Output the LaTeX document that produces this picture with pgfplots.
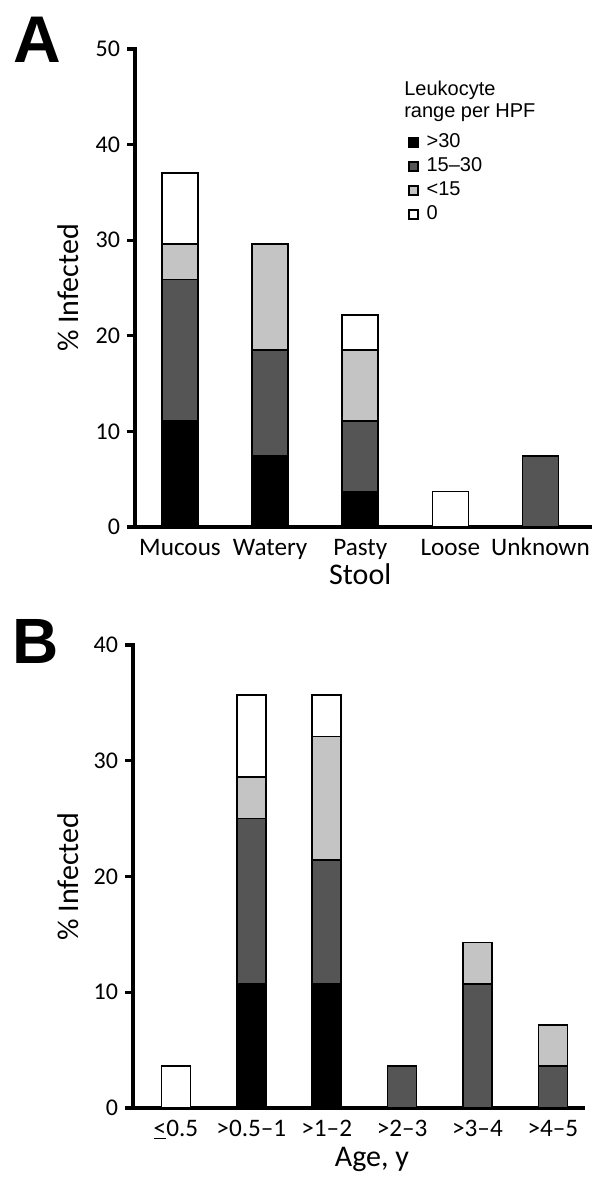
\documentclass[border=0pt]{standalone}
\usepackage{fontspec}
\setmainfont{Carlito}
\newfontfamily\arial[Ligatures=TeX]{Liberation Sans}
\usepackage{pgfplots}
\pgfplotsset{compat=1.18}
\definecolor{dgray}{HTML}{555555}
\definecolor{lgray}{HTML}{C4C4C4}

\pgfplotsset{
  panel/.style={
    scale only axis,
    axis x line=bottom, axis y line=left,
    axis line style={-, line width=1.6pt, line cap=rect},
    ybar stacked, ymin=0, enlargelimits=false,
    tick align=outside, major tick length=4pt,
    ytick style={line width=1.6pt, black},
    xtick style={draw=none},
    yticklabel style={font=\fontsize{12}{14}\selectfont},
    xticklabel style={font=\fontsize{12.6}{15}\selectfont, anchor=base, yshift=-10.3pt},
    /pgf/number format/assume math mode=true,
    label style={font=\fontsize{15}{18}\selectfont},
    every axis plot/.append style={draw=black, line width=0.85pt},
    legend image code/.code={\draw[#1, line width=0.6pt] (0pt,-2.25pt) rectangle (4.5pt,2.25pt);},
  }
}

\begin{document}
\begin{tikzpicture}
\useasboundingbox (0,0) rectangle (300pt,-600pt);

\node[anchor=base west, inner sep=0pt, font=\arial\bfseries\fontsize{33}{36}\selectfont] at (6.5pt,-31pt) {A};
\node[anchor=base west, inner sep=0pt, font=\arial\bfseries\fontsize{32}{36}\selectfont] at (6pt,-331.5pt) {B};

% Panel A
\begin{axis}[panel,
  at={(67.5pt,-263.5pt)}, anchor=south west,
  width=227.5pt, height=239pt,
  xmin=-0.5, xmax=4.55, ymax=50,
  ytick={0,10,20,30,40,50},
  xtick={0,1,2,3,4},
  xticklabels={Mucous,Watery,Pasty,Loose,Unknown},
  bar width=18pt,
  xlabel={Stool}, ylabel={\% Infected},
  xlabel style={at={(axis description cs:0.495,0)}, anchor=base, yshift=-28.8pt},
  ylabel style={at={(axis description cs:-0.147,0.5)}, anchor=center},
  legend style={draw=none, fill=none, at={(rel axis cs:0.600,0.825)}, anchor=north west,
    font=\arial\fontsize{10}{12}\selectfont, inner sep=0pt, row sep=2.6pt,
    nodes={inner sep=0pt, text height=7.4pt, text depth=2pt},
    /tikz/every odd column/.append style={column sep=4pt}},
  legend cell align=left,
]
\addplot[fill=black] coordinates {(0,11.1) (1,7.4) (2,3.7) (3,0) (4,0)};
\addplot[fill=dgray] coordinates {(0,14.8) (1,11.1) (2,7.4) (3,0) (4,7.4)};
\addplot[fill=lgray] coordinates {(0,3.7) (1,11.1) (2,7.4) (3,0) (4,0)};
\addplot[fill=white] coordinates {(0,7.4) (1,0) (2,3.7) (3,3.7) (4,0)};
\legend{>30,15\textendash30,<15,0}
\node[anchor=north west, inner sep=0pt, align=left, font=\arial\fontsize{10}{10.8}\selectfont] at (rel axis cs:0.591,0.933) {Leukocyte\\range per HPF};
\end{axis}

% Panel B
\begin{axis}[panel,
  at={(66.5pt,-554pt)}, anchor=south west,
  width=225pt, height=231.5pt,
  xmin=-0.57, xmax=5.4, ymax=40,
  ytick={0,10,20,30,40},
  xtick={0,1,2,3,4,5},
  xticklabels={\underline{<}0.5,>0.5\textendash1,>1\textendash2,>2\textendash3,>3\textendash4,>4\textendash5},
  xticklabel style={yshift=0.3pt},
  bar width=14.5pt,
  xlabel={Age, y}, ylabel={\% Infected},
  xlabel style={at={(axis description cs:0.531,0)}, anchor=base, yshift=-29pt},
  ylabel style={at={(axis description cs:-0.144,0.5)}, anchor=center},
]
\addplot[fill=black] coordinates {(0,0) (1,10.7) (2,10.7) (3,0) (4,0) (5,0)};
\addplot[fill=dgray] coordinates {(0,0) (1,14.3) (2,10.7) (3,3.6) (4,10.7) (5,3.6)};
\addplot[fill=lgray] coordinates {(0,0) (1,3.6) (2,10.7) (3,0) (4,3.6) (5,3.6)};
\addplot[fill=white] coordinates {(0,3.6) (1,7.1) (2,3.6) (3,0) (4,0) (5,0)};
\end{axis}
\end{tikzpicture}
\end{document}
